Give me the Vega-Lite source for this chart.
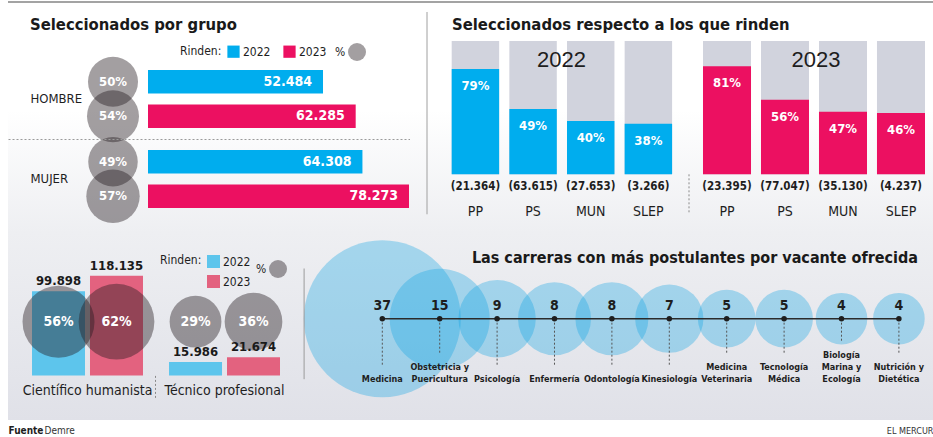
{
  "$schema": "https://vega.github.io/schema/vega-lite/v6.json",
  "background": "white",
  "padding": {"left": 8, "top": 1, "right": 0, "bottom": 0},
  "config": {
    "font": "DejaVu Sans Condensed, sans-serif",
    "view": {"stroke": null},
    "title": {"font": "DejaVu Sans Condensed, sans-serif", "fontSize": 16.5, "fontWeight": "bold", "color": "#1a1a1a", "anchor": "start", "frame": "group", "offset": 8},
    "axis": {"labelFont": "DejaVu Sans Condensed, sans-serif", "titleFont": "DejaVu Sans Condensed, sans-serif", "grid": false, "zindex": 1},
    "legend": {"labelFont": "DejaVu Sans Condensed, sans-serif", "titleFont": "DejaVu Sans Condensed, sans-serif"}
  },
  "datasets": {
    "grupo": [
      {"grupo": "HOMBRE", "anio": "2022", "rinden": 52484, "pct": 0.50},
      {"grupo": "HOMBRE", "anio": "2023", "rinden": 62285, "pct": 0.54},
      {"grupo": "MUJER", "anio": "2022", "rinden": 64308, "pct": 0.49},
      {"grupo": "MUJER", "anio": "2023", "rinden": 78273, "pct": 0.57}
    ],
    "dependencia": [
      {"tipo": "PP", "anio": "2022", "rinden": 21364, "pct": 0.79},
      {"tipo": "PS", "anio": "2022", "rinden": 63615, "pct": 0.49},
      {"tipo": "MUN", "anio": "2022", "rinden": 27653, "pct": 0.40},
      {"tipo": "SLEP", "anio": "2022", "rinden": 3266, "pct": 0.38},
      {"tipo": "PP", "anio": "2023", "rinden": 23395, "pct": 0.81},
      {"tipo": "PS", "anio": "2023", "rinden": 77047, "pct": 0.56},
      {"tipo": "MUN", "anio": "2023", "rinden": 35130, "pct": 0.47},
      {"tipo": "SLEP", "anio": "2023", "rinden": 4237, "pct": 0.46}
    ],
    "modalidad": [
      {"tipo": "Científico humanista", "anio": "2022", "rinden": 99898, "pct": 0.56},
      {"tipo": "Científico humanista", "anio": "2023", "rinden": 118135, "pct": 0.62},
      {"tipo": "Técnico profesional", "anio": "2022", "rinden": 15986, "pct": 0.29},
      {"tipo": "Técnico profesional", "anio": "2023", "rinden": 21674, "pct": 0.36}
    ],
    "carreras": [
      {"carrera": "Medicina", "postulantes": 37},
      {"carrera": "Obstetricia y Puericultura", "postulantes": 15},
      {"carrera": "Psicología", "postulantes": 9},
      {"carrera": "Enfermería", "postulantes": 8},
      {"carrera": "Odontología", "postulantes": 8},
      {"carrera": "Kinesiología", "postulantes": 7},
      {"carrera": "Medicina Veterinaria", "postulantes": 5},
      {"carrera": "Tecnología Médica", "postulantes": 5},
      {"carrera": "Biología Marina y Ecología", "postulantes": 4},
      {"carrera": "Nutrición y Dietética", "postulantes": 4}
    ]
  },
  "spacing": 0,
  "resolve": {
    "scale": {"x": "independent", "y": "independent", "color": "independent", "size": "independent"},
    "legend": {"color": "independent", "size": "independent"}
  },
  "vconcat": [
    {
      "width": 925, "height": 10,
      "data": {"values": [{}]},
      "mark": {"type": "rect", "color": "#a3a3a3"},
      "encoding": {
        "y": {"datum": 1, "type": "quantitative", "scale": {"domain": [0, 1]}, "axis": null},
        "y2": {"datum": 0.8}
      }
    },
    {
      "hconcat": [
        {
          "width": 140, "height": 187,
          "title": {"text": "Seleccionados por grupo", "dx": 22},
          "resolve": {"scale": {"y": "independent"}},
          "layer": [
            {"data": {"values": [{}]},
             "mark": {"type": "rect", "color": {"gradient": "linear", "x1": 0, "y1": 0, "x2": 0, "y2": 1, "stops": [{"offset": 0, "color": "#ffffff"}, {"offset": 1, "color": "#eeeff2"}]}},
             "encoding": {"y": {"datum": 0.631, "type": "quantitative", "scale": {"domain": [0, 1]}, "axis": null}, "y2": {"datum": -0.020856}}},
            {"data": {"name": "grupo"},
             "layer": [
              {"mark": {"type": "circle", "opacity": 0.42, "xOffset": 35, "color": "#231a1e"},
               "encoding": {
                 "y": {"field": "grupo", "type": "nominal", "scale": {"domain": ["HOMBRE", "MUJER"], "paddingInner": 0.275, "paddingOuter": 0.306, "align": 0.592},
                       "axis": {"zindex": 1, "title": null, "domain": false, "ticks": false, "tickSize": 0, "labelAlign": "left", "labelBaseline": "middle", "labelPadding": -22, "labelFontSize": 13, "labelColor": "#1e1e1e",
                                "bandPosition": 1.19, "grid": true, "gridDash": [2, 2], "gridColor": "#9a9a9a", "gridOpacity": {"condition": {"test": "datum.value == 'HOMBRE'", "value": 1}, "value": 0}}},
                 "yOffset": {"field": "anio", "type": "nominal", "scale": {"paddingInner": 0.32}},
                 "size": {"field": "pct", "type": "quantitative", "scale": {"domain": [0, 1], "range": [0, 5000]},
                          "legend": {"title": "%", "titleOrient": "left", "values": [0.0648], "labelExpr": "''", "orient": "none", "legendX": 327, "legendY": 2, "symbolType": "circle", "symbolFillColor": "#231a1e", "symbolOpacity": 0.42, "symbolStrokeWidth": 0, "titleFontSize": 12, "titleFontWeight": "normal", "titleColor": "#1e1e1e", "titlePadding": 2, "titleBaseline": "middle"}}
               }},
              {"mark": {"type": "text", "xOffset": 35, "color": "white", "fontWeight": "bold", "fontSize": 13, "baseline": "middle", "text": {"expr": "format(datum.pct, '.0%')"}},
               "encoding": {
                 "y": {"field": "grupo", "type": "nominal", "scale": {"domain": ["HOMBRE", "MUJER"], "paddingInner": 0.275, "paddingOuter": 0.306, "align": 0.592}},
                 "yOffset": {"field": "anio", "type": "nominal", "scale": {"paddingInner": 0.32}}
               }}
             ]}
          ]
        },
        {
          "width": 262, "height": 187,
          "resolve": {"scale": {"y": "independent"}},
          "layer": [
            {"data": {"values": [{}]},
             "mark": {"type": "rect", "color": {"gradient": "linear", "x1": 0, "y1": 0, "x2": 0, "y2": 1, "stops": [{"offset": 0, "color": "#ffffff"}, {"offset": 1, "color": "#eeeff2"}]}},
             "encoding": {"y": {"datum": 0.631, "type": "quantitative", "scale": {"domain": [0, 1]}, "axis": null}, "y2": {"datum": -0.020856}}},
            {"data": {"name": "grupo"},
             "layer": [
              {"mark": {"type": "bar"},
               "encoding": {
                 "y": {"field": "grupo", "type": "nominal", "scale": {"domain": ["HOMBRE", "MUJER"], "paddingInner": 0.275, "paddingOuter": 0.306, "align": 0.592},
                       "axis": {"zindex": 1, "title": null, "labels": false, "ticks": false, "domain": false, "grid": true, "bandPosition": 1.19, "gridDash": [2, 2], "gridColor": "#9a9a9a",
                                "gridOpacity": {"condition": {"test": "datum.value == 'HOMBRE'", "value": 1}, "value": 0}}},
                 "yOffset": {"field": "anio", "type": "nominal", "scale": {"paddingInner": 0.32}},
                 "x": {"field": "rinden", "type": "quantitative", "stack": null, "scale": {"domain": [0, 78573]}, "axis": null},
                 "color": {"field": "anio", "type": "nominal", "scale": {"domain": ["2022", "2023"], "range": ["#00adee", "#ec1061"]},
                           "legend": {"title": "Rinden:", "titleOrient": "left", "direction": "horizontal", "orient": "none", "legendX": 32, "legendY": 4, "symbolType": "square", "symbolSize": 150, "symbolStrokeWidth": 0, "labelFontSize": 12, "labelColor": "#1e1e1e", "titleFontSize": 12, "titleFontWeight": "normal", "titleColor": "#1e1e1e", "columnPadding": 12, "labelOffset": 3, "titlePadding": 5}}
               }},
              {"mark": {"type": "text", "align": "right", "dx": -11, "color": "white", "fontWeight": "bold", "fontSize": 14, "baseline": "middle", "text": {"expr": "replace(format(datum.rinden, ',d'), ',', '.')"}},
               "encoding": {
                 "y": {"field": "grupo", "type": "nominal", "scale": {"domain": ["HOMBRE", "MUJER"], "paddingInner": 0.275, "paddingOuter": 0.306, "align": 0.592}},
                 "yOffset": {"field": "anio", "type": "nominal", "scale": {"paddingInner": 0.32}},
                 "x": {"field": "rinden", "type": "quantitative", "stack": null, "scale": {"domain": [0, 78573]}}
               }}
             ]}
          ]
        },
        {
          "width": 34, "height": 133.3,
          "data": {"values": [{}]},
          "layer": [
            {"mark": {"type": "rect", "color": {"gradient": "linear", "x1": 0, "y1": 0, "x2": 0, "y2": 1, "stops": [{"offset": 0, "color": "#ffffff"}, {"offset": 1, "color": "#eeeff2"}]}},
             "encoding": {"y": {"datum": 0.482, "type": "quantitative", "scale": {"domain": [0, 1]}, "axis": null}, "y2": {"datum": -0.4321}}},
            {"mark": {"type": "rule", "color": "#a0a0a0", "strokeWidth": 1},
             "encoding": {"y": {"datum": 1.2176, "type": "quantitative", "scale": {"domain": [0, 1]}, "axis": null}, "y2": {"datum": -0.3}}}
          ]
        },
        {
          "width": 235, "height": 133.3,
          "title": {"text": "Seleccionados respecto a los que rinden", "dx": 8},
          "data": {"name": "dependencia"},
          "transform": [{"filter": "datum.anio == '2022'"}],
          "layer": [
            {"data": {"values": [{}]},
             "mark": {"type": "rect", "color": {"gradient": "linear", "x1": 0, "y1": 0, "x2": 0, "y2": 1, "stops": [{"offset": 0, "color": "#ffffff"}, {"offset": 1, "color": "#eeeff2"}]}},
             "encoding": {"y": {"datum": 0.482, "type": "quantitative", "scale": {"domain": [0, 1]}, "axis": null}, "y2": {"datum": -0.4321}}},
            {"mark": {"type": "bar", "color": "#d1d3dd"},
             "encoding": {
               "x": {"field": "tipo", "type": "nominal", "scale": {"domain": ["PP", "PS", "MUN", "SLEP"], "paddingInner": 0.177, "paddingOuter": 0.1266, "align": 0.527},
                     "axis": {"zindex": 1, "title": null, "domain": false, "ticks": false, "labelPadding": 30, "labelFontSize": 14, "labelColor": "#1e1e1e", "labelAngle": 0}},
               "y": {"datum": 1, "type": "quantitative", "stack": null, "scale": {"domain": [0, 1]}, "axis": null}
             }},
            {"mark": {"type": "bar"},
             "encoding": {
               "x": {"field": "tipo", "type": "nominal", "scale": {"domain": ["PP", "PS", "MUN", "SLEP"], "paddingInner": 0.177, "paddingOuter": 0.1266, "align": 0.527}},
               "y": {"field": "pct", "type": "quantitative", "stack": null, "scale": {"domain": [0, 1]}},
               "color": {"field": "anio", "type": "nominal", "scale": {"domain": ["2022", "2023"], "range": ["#00adee", "#ec1061"]}, "legend": null}
             }},
            {"mark": {"type": "text", "baseline": "top", "dy": 11, "color": "white", "fontWeight": "bold", "fontSize": 13, "text": {"expr": "format(datum.pct, '.0%')"}},
             "encoding": {
               "x": {"field": "tipo", "type": "nominal", "scale": {"domain": ["PP", "PS", "MUN", "SLEP"], "paddingInner": 0.177, "paddingOuter": 0.1266, "align": 0.527}},
               "y": {"field": "pct", "type": "quantitative", "scale": {"domain": [0, 1]}}
             }},
            {"mark": {"type": "text", "baseline": "middle", "dy": 13, "color": "#1e1e1e", "fontWeight": "bold", "fontSize": 11.5, "text": {"expr": "'(' + replace(format(datum.rinden, ',d'), ',', '.') + ')'"}},
             "encoding": {
               "x": {"field": "tipo", "type": "nominal", "scale": {"domain": ["PP", "PS", "MUN", "SLEP"], "paddingInner": 0.177, "paddingOuter": 0.1266, "align": 0.527}},
               "y": {"datum": 0, "type": "quantitative", "scale": {"domain": [0, 1]}}
             }},
            {"transform": [{"aggregate": [{"op": "count", "as": "n"}], "groupby": ["anio"]}],
             "mark": {"type": "text", "fontSize": 22, "font": "Liberation Sans, sans-serif", "color": "#1e1e1e", "baseline": "middle"},
             "encoding": {
               "y": {"datum": 0.86, "type": "quantitative", "scale": {"domain": [0, 1]}},
               "text": {"field": "anio", "type": "nominal"}
             }}
          ]
        },
        {
          "width": 20, "height": 133.3,
          "data": {"values": [{}]},
          "layer": [
            {"mark": {"type": "rect", "color": {"gradient": "linear", "x1": 0, "y1": 0, "x2": 0, "y2": 1, "stops": [{"offset": 0, "color": "#ffffff"}, {"offset": 1, "color": "#eeeff2"}]}},
             "encoding": {"y": {"datum": 0.482, "type": "quantitative", "scale": {"domain": [0, 1]}, "axis": null}, "y2": {"datum": -0.4321}}},
            {"mark": {"type": "rule", "color": "#8a8a8a", "strokeDash": [2, 2]},
             "encoding": {"y": {"datum": 0, "type": "quantitative", "scale": {"domain": [0, 1]}, "axis": null}, "y2": {"datum": -0.3}}}
          ]
        },
        {
          "width": 234, "height": 133.3,
          "data": {"name": "dependencia"},
          "transform": [{"filter": "datum.anio == '2023'"}],
          "layer": [
            {"data": {"values": [{}]},
             "mark": {"type": "rect", "color": {"gradient": "linear", "x1": 0, "y1": 0, "x2": 0, "y2": 1, "stops": [{"offset": 0, "color": "#ffffff"}, {"offset": 1, "color": "#eeeff2"}]}},
             "encoding": {"y": {"datum": 0.482, "type": "quantitative", "scale": {"domain": [0, 1]}, "axis": null}, "y2": {"datum": -0.4321}}},
            {"mark": {"type": "bar", "color": "#d1d3dd"},
             "encoding": {
               "x": {"field": "tipo", "type": "nominal", "scale": {"domain": ["PP", "PS", "MUN", "SLEP"], "paddingInner": 0.172, "paddingOuter": 0.1034, "align": 0.333},
                     "axis": {"zindex": 1, "title": null, "domain": false, "ticks": false, "labelPadding": 30, "labelFontSize": 14, "labelColor": "#1e1e1e", "labelAngle": 0}},
               "y": {"datum": 1, "type": "quantitative", "stack": null, "scale": {"domain": [0, 1]}, "axis": null}
             }},
            {"mark": {"type": "bar"},
             "encoding": {
               "x": {"field": "tipo", "type": "nominal", "scale": {"domain": ["PP", "PS", "MUN", "SLEP"], "paddingInner": 0.172, "paddingOuter": 0.1034, "align": 0.333}},
               "y": {"field": "pct", "type": "quantitative", "stack": null, "scale": {"domain": [0, 1]}},
               "color": {"field": "anio", "type": "nominal", "scale": {"domain": ["2022", "2023"], "range": ["#00adee", "#ec1061"]}, "legend": null}
             }},
            {"mark": {"type": "text", "baseline": "top", "dy": 11, "color": "white", "fontWeight": "bold", "fontSize": 13, "text": {"expr": "format(datum.pct, '.0%')"}},
             "encoding": {
               "x": {"field": "tipo", "type": "nominal", "scale": {"domain": ["PP", "PS", "MUN", "SLEP"], "paddingInner": 0.172, "paddingOuter": 0.1034, "align": 0.333}},
               "y": {"field": "pct", "type": "quantitative", "scale": {"domain": [0, 1]}}
             }},
            {"mark": {"type": "text", "baseline": "middle", "dy": 13, "color": "#1e1e1e", "fontWeight": "bold", "fontSize": 11.5, "text": {"expr": "'(' + replace(format(datum.rinden, ',d'), ',', '.') + ')'"}},
             "encoding": {
               "x": {"field": "tipo", "type": "nominal", "scale": {"domain": ["PP", "PS", "MUN", "SLEP"], "paddingInner": 0.172, "paddingOuter": 0.1034, "align": 0.333}},
               "y": {"datum": 0, "type": "quantitative", "scale": {"domain": [0, 1]}}
             }},
            {"transform": [{"aggregate": [{"op": "count", "as": "n"}], "groupby": ["anio"]}],
             "mark": {"type": "text", "fontSize": 22, "font": "Liberation Sans, sans-serif", "color": "#1e1e1e", "baseline": "middle"},
             "encoding": {
               "y": {"datum": 0.86, "type": "quantitative", "scale": {"domain": [0, 1]}},
               "text": {"field": "anio", "type": "nominal"}
             }}
          ]
        }
      ],
      "spacing": 0,
      "bounds": "flush",
      "resolve": {
        "scale": {"x": "independent", "y": "independent", "color": "independent", "size": "independent"},
        "legend": {"color": "independent", "size": "independent"}
      }
    },
    {
      "hconcat": [
        {
          "width": 346, "height": 107.4,
          "data": {"name": "modalidad"},
          "layer": [
            {"data": {"values": [{}]},
             "mark": {"type": "rect", "color": {"gradient": "linear", "x1": 0, "y1": 0, "x2": 0, "y2": 1, "stops": [{"offset": 0, "color": "#eeeff2"}, {"offset": 1, "color": "#e0e1e8"}]}},
             "encoding": {"y": {"datum": 169983, "type": "quantitative", "scale": {"domain": [0, 127400]}}, "y2": {"datum": -52905}}},
            {"mark": {"type": "bar"},
             "encoding": {
               "x": {"field": "tipo", "type": "nominal", "scale": {"domain": ["Científico humanista", "Técnico profesional"], "paddingInner": 0.19, "paddingOuter": 0.3577, "align": 0.245},
                     "axis": {"zindex": 1, "title": "Demre", "titleX": 36, "titleY": 54.6, "titleAlign": "left", "titleBaseline": "middle", "titleFontSize": 10, "titleFontWeight": "normal", "titleColor": "#333333",
                              "domain": false, "bandPosition": -0.122, "ticks": true, "tickSize": 24, "tickDash": [2, 2], "tickColor": "#8a8a8a",
                              "tickOpacity": {"condition": {"test": "datum.value == 'Técnico profesional'", "value": 1}, "value": 0},
                              "labelPadding": -16, "labelFontSize": 14, "labelColor": "#1e1e1e", "labelAngle": 0}},
               "xOffset": {"field": "anio", "type": "nominal", "scale": {"paddingInner": 0.086}},
               "y": {"field": "rinden", "type": "quantitative", "stack": null, "scale": {"domain": [0, 127400]},
                     "axis": {"zindex": 1, "title": "Fuente", "titleAngle": 0, "titleX": 0, "titleY": 162, "titleAlign": "left", "titleBaseline": "middle", "titleFontSize": 10, "titleFontWeight": "bold", "titleColor": "#1e1e1e", "labels": false, "ticks": false, "domain": false}},
               "color": {"field": "anio", "type": "nominal", "scale": {"domain": ["2022", "2023"], "range": ["#5dc5ec", "#e3627f"]},
                         "legend": {"title": "Rinden:", "titleOrient": "left", "titleAnchor": "start", "titleBaseline": "top", "orient": "none", "legendX": 152, "legendY": -13, "direction": "vertical", "symbolType": "square", "symbolSize": 169, "symbolStrokeWidth": 0, "labelFontSize": 12, "labelColor": "#1e1e1e", "titleFontSize": 12, "titleFontWeight": "normal", "titleColor": "#1e1e1e", "labelOffset": 3, "titlePadding": 5, "rowPadding": 7}}
             }},
            {"mark": {"type": "circle", "opacity": 0.42, "color": "#231a1e"},
             "encoding": {
               "x": {"field": "tipo", "type": "nominal", "scale": {"domain": ["Científico humanista", "Técnico profesional"], "paddingInner": 0.19, "paddingOuter": 0.3577, "align": 0.245}},
               "xOffset": {"field": "anio", "type": "nominal", "scale": {"paddingInner": 0.086}},
               "size": {"field": "pct", "type": "quantitative", "scale": {"domain": [0, 1], "range": [0, 9257]},
                        "legend": {"title": "%", "titleOrient": "left", "values": [0.035], "labelExpr": "''", "orient": "none", "legendX": 248, "legendY": -8, "symbolType": "circle", "symbolFillColor": "#231a1e", "symbolOpacity": 0.42, "symbolStrokeWidth": 0, "titleFontSize": 12, "titleFontWeight": "normal", "titleColor": "#1e1e1e", "titlePadding": 2, "titleBaseline": "middle"}}
             }},
            {"mark": {"type": "text", "baseline": "bottom", "dy": -3, "fontWeight": "bold", "fontSize": 13, "color": "#1a1a1a", "text": {"expr": "replace(format(datum.rinden, ',d'), ',', '.')"}},
             "encoding": {
               "x": {"field": "tipo", "type": "nominal", "scale": {"domain": ["Científico humanista", "Técnico profesional"], "paddingInner": 0.19, "paddingOuter": 0.3577, "align": 0.245}},
               "xOffset": {"field": "anio", "type": "nominal", "scale": {"paddingInner": 0.086}},
               "y": {"field": "rinden", "type": "quantitative", "stack": null, "scale": {"domain": [0, 127400]}}
             }},
            {"mark": {"type": "text", "color": "white", "fontWeight": "bold", "fontSize": 14, "baseline": "middle", "text": {"expr": "format(datum.pct, '.0%')"}},
             "encoding": {
               "x": {"field": "tipo", "type": "nominal", "scale": {"domain": ["Científico humanista", "Técnico profesional"], "paddingInner": 0.19, "paddingOuter": 0.3577, "align": 0.245}},
               "xOffset": {"field": "anio", "type": "nominal", "scale": {"paddingInner": 0.086}}
             }}
          ]
        },
        {
          "width": 579, "height": 110.7,
          "title": {"text": "Las carreras con más postulantes por vacante ofrecida", "anchor": "end", "dx": -15, "offset": -33.5, "fontSize": 16},
          "data": {"name": "carreras"},
          "layer": [
            {"data": {"values": [{}]},
             "mark": {"type": "rect", "color": {"gradient": "linear", "x1": 0, "y1": 0, "x2": 0, "y2": 1, "stops": [{"offset": 0, "color": "#eeeff2"}, {"offset": 1, "color": "#e0e1e8"}]}},
             "encoding": {"y": {"datum": 12.2167, "type": "quantitative", "scale": {"domain": [0, 9.225]}}, "y2": {"datum": -3.44}}},
            {"mark": {"type": "circle", "color": "#0aa3e3", "opacity": 0.32},
             "encoding": {
               "x": {"field": "carrera", "type": "nominal", "scale": {"type": "point", "domain": ["Medicina", "Obstetricia y Puericultura", "Psicología", "Enfermería", "Odontología", "Kinesiología", "Medicina Veterinaria", "Tecnología Médica", "Biología Marina y Ecología", "Nutrición y Dietética"], "padding": 0.5436, "align": 0.4535},
                     "axis": {"zindex": 1, "labels": false, "ticks": false, "domain": false, "title": "EL MERCUR", "titleX": 579, "titleY": 51.3, "titleAlign": "right", "titleBaseline": "middle", "titleFontSize": 9, "titleFontWeight": "normal", "titleColor": "#333333"}},
               "y": {"datum": 5, "type": "quantitative", "scale": {"domain": [0, 9.225]},
                     "axis": {"zindex": 1, "orient": "left", "labels": false, "ticks": false, "domain": true, "domainColor": "#9a9a9a", "offset": 50.4, "title": null}},
               "size": {"field": "postulantes", "type": "quantitative", "scale": {"domain": [0, 40], "range": [0, 26648]}, "legend": null}
             }},
            {"mark": {"type": "line", "color": "#2b2b2b", "strokeWidth": 1.5},
             "encoding": {
               "x": {"field": "carrera", "type": "nominal", "scale": {"type": "point", "domain": ["Medicina", "Obstetricia y Puericultura", "Psicología", "Enfermería", "Odontología", "Kinesiología", "Medicina Veterinaria", "Tecnología Médica", "Biología Marina y Ecología", "Nutrición y Dietética"], "padding": 0.5436, "align": 0.4535}},
               "y": {"datum": 5, "type": "quantitative", "scale": {"domain": [0, 9.225]}}
             }},
            {"transform": [{"filter": "length(split(replace(datum.carrera, regexp(' (?!y )', 'g'), '|'), '|')) == 1"}],
             "mark": {"type": "rule", "color": "#555555", "strokeDash": [2, 2]},
             "encoding": {
               "x": {"field": "carrera", "type": "nominal", "scale": {"type": "point", "domain": ["Medicina", "Obstetricia y Puericultura", "Psicología", "Enfermería", "Odontología", "Kinesiología", "Medicina Veterinaria", "Tecnología Médica", "Biología Marina y Ecología", "Nutrición y Dietética"], "padding": 0.5436, "align": 0.4535}},
               "y": {"datum": 5, "type": "quantitative", "scale": {"domain": [0, 9.225]}},
               "y2": {"datum": 1}
             }},
            {"transform": [{"filter": "length(split(replace(datum.carrera, regexp(' (?!y )', 'g'), '|'), '|')) == 2"}],
             "mark": {"type": "rule", "color": "#555555", "strokeDash": [2, 2]},
             "encoding": {
               "x": {"field": "carrera", "type": "nominal", "scale": {"type": "point", "domain": ["Medicina", "Obstetricia y Puericultura", "Psicología", "Enfermería", "Odontología", "Kinesiología", "Medicina Veterinaria", "Tecnología Médica", "Biología Marina y Ecología", "Nutrición y Dietética"], "padding": 0.5436, "align": 0.4535}},
               "y": {"datum": 5, "type": "quantitative", "scale": {"domain": [0, 9.225]}},
               "y2": {"datum": 2}
             }},
            {"transform": [{"filter": "length(split(replace(datum.carrera, regexp(' (?!y )', 'g'), '|'), '|')) == 3"}],
             "mark": {"type": "rule", "color": "#555555", "strokeDash": [2, 2]},
             "encoding": {
               "x": {"field": "carrera", "type": "nominal", "scale": {"type": "point", "domain": ["Medicina", "Obstetricia y Puericultura", "Psicología", "Enfermería", "Odontología", "Kinesiología", "Medicina Veterinaria", "Tecnología Médica", "Biología Marina y Ecología", "Nutrición y Dietética"], "padding": 0.5436, "align": 0.4535}},
               "y": {"datum": 5, "type": "quantitative", "scale": {"domain": [0, 9.225]}},
               "y2": {"datum": 3}
             }},
            {"mark": {"type": "circle", "color": "#1e1e1e", "size": 30, "opacity": 1},
             "encoding": {
               "x": {"field": "carrera", "type": "nominal", "scale": {"type": "point", "domain": ["Medicina", "Obstetricia y Puericultura", "Psicología", "Enfermería", "Odontología", "Kinesiología", "Medicina Veterinaria", "Tecnología Médica", "Biología Marina y Ecología", "Nutrición y Dietética"], "padding": 0.5436, "align": 0.4535}},
               "y": {"datum": 5, "type": "quantitative", "scale": {"domain": [0, 9.225]}}
             }},
            {"mark": {"type": "text", "dy": -13, "fontWeight": "bold", "fontSize": 14, "color": "#1e1e1e", "baseline": "middle"},
             "encoding": {
               "x": {"field": "carrera", "type": "nominal", "scale": {"type": "point", "domain": ["Medicina", "Obstetricia y Puericultura", "Psicología", "Enfermería", "Odontología", "Kinesiología", "Medicina Veterinaria", "Tecnología Médica", "Biología Marina y Ecología", "Nutrición y Dietética"], "padding": 0.5436, "align": 0.4535}},
               "y": {"datum": 5, "type": "quantitative", "scale": {"domain": [0, 9.225]}},
               "text": {"field": "postulantes", "type": "quantitative"}
             }},
            {"transform": [{"filter": "length(split(replace(datum.carrera, regexp(' (?!y )', 'g'), '|'), '|')) == 1"}],
             "mark": {"type": "text", "baseline": "middle", "fontWeight": "bold", "fontSize": 9, "lineHeight": 12, "color": "#1e1e1e",
                      "text": {"expr": "split(replace(datum.carrera, regexp(' (?!y )', 'g'), '|'), '|')"}},
             "encoding": {
               "x": {"field": "carrera", "type": "nominal", "scale": {"type": "point", "domain": ["Medicina", "Obstetricia y Puericultura", "Psicología", "Enfermería", "Odontología", "Kinesiología", "Medicina Veterinaria", "Tecnología Médica", "Biología Marina y Ecología", "Nutrición y Dietética"], "padding": 0.5436, "align": 0.4535}},
               "y": {"datum": 0, "type": "quantitative", "scale": {"domain": [0, 9.225]}}
             }},
            {"transform": [{"filter": "length(split(replace(datum.carrera, regexp(' (?!y )', 'g'), '|'), '|')) == 2"}],
             "mark": {"type": "text", "baseline": "middle", "fontWeight": "bold", "fontSize": 9, "lineHeight": 12, "color": "#1e1e1e",
                      "text": {"expr": "split(replace(datum.carrera, regexp(' (?!y )', 'g'), '|'), '|')"}},
             "encoding": {
               "x": {"field": "carrera", "type": "nominal", "scale": {"type": "point", "domain": ["Medicina", "Obstetricia y Puericultura", "Psicología", "Enfermería", "Odontología", "Kinesiología", "Medicina Veterinaria", "Tecnología Médica", "Biología Marina y Ecología", "Nutrición y Dietética"], "padding": 0.5436, "align": 0.4535}},
               "y": {"datum": 1, "type": "quantitative", "scale": {"domain": [0, 9.225]}}
             }},
            {"transform": [{"filter": "length(split(replace(datum.carrera, regexp(' (?!y )', 'g'), '|'), '|')) == 3"}],
             "mark": {"type": "text", "baseline": "middle", "fontWeight": "bold", "fontSize": 9, "lineHeight": 12, "color": "#1e1e1e",
                      "text": {"expr": "split(replace(datum.carrera, regexp(' (?!y )', 'g'), '|'), '|')"}},
             "encoding": {
               "x": {"field": "carrera", "type": "nominal", "scale": {"type": "point", "domain": ["Medicina", "Obstetricia y Puericultura", "Psicología", "Enfermería", "Odontología", "Kinesiología", "Medicina Veterinaria", "Tecnología Médica", "Biología Marina y Ecología", "Nutrición y Dietética"], "padding": 0.5436, "align": 0.4535}},
               "y": {"datum": 2, "type": "quantitative", "scale": {"domain": [0, 9.225]}}
             }}
          ]
        }
      ],
      "spacing": 0,
      "bounds": "flush",
      "resolve": {
        "scale": {"x": "independent", "y": "independent", "color": "independent", "size": "independent"},
        "legend": {"color": "independent", "size": "independent"}
      }
    }
  ]
}
